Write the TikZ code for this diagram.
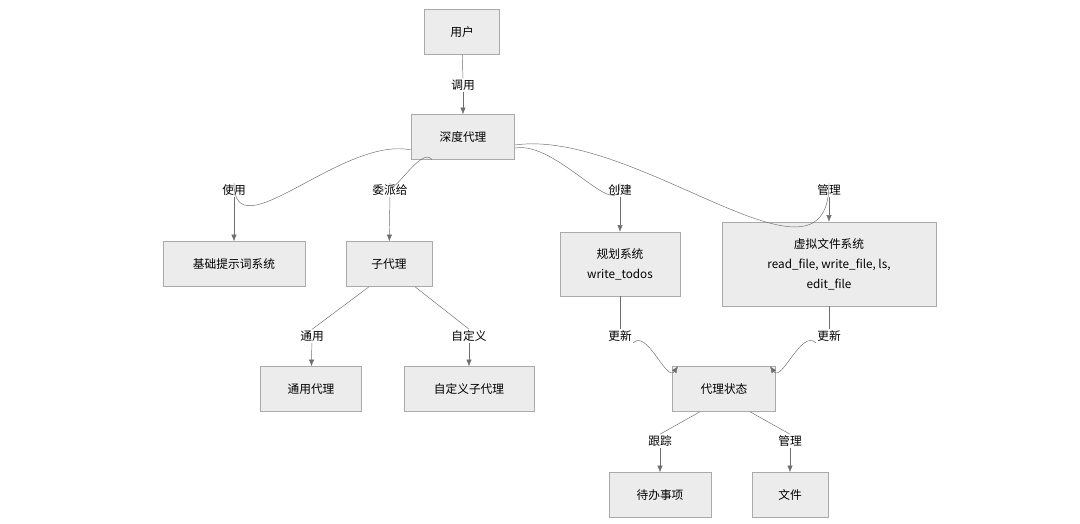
\documentclass[tikz,border=0pt]{standalone}
\usepackage{fontspec}
\setmainfont{Noto Sans CJK SC}
\usepackage{tikz}
\usetikzlibrary{arrows.meta,calc}
\definecolor{box-fill}{RGB}{236,236,236}
\definecolor{box-line}{RGB}{170,170,170}
\definecolor{edge-line}{RGB}{110,110,110}

\begin{document}
\begin{tikzpicture}[
    x=0.03cm, y=-0.03cm,
    box/.style={rectangle, draw=box-line, fill=box-fill, minimum height=1.35cm, align=center, font=\fontsize{10}{17}\selectfont},
    lbl/.style={fill=white, inner sep=1pt, font=\fontsize{10}{12}\selectfont},
    line/.style={edge-line, thin},
    arrow/.style={edge-line, thin, -{Latex[length=2mm,width=1.6mm]}}
]
\useasboundingbox (0,0) rectangle (1080,523);

% Top
\node[box, minimum width=2.25cm] (user) at (462,32) {用户};
\node[box, minimum width=3.1cm] (deep) at (463,137) {深度代理};

% Second row
\node[box, minimum width=4.26cm] (base) at (234,264) {基础提示词系统};
\node[box, minimum width=2.58cm] (sub) at (389,264) {子代理};
\node[box, minimum width=3.6cm, minimum height=1.92cm] (plan) at (620,264) {规划系统\\write\_todos};
\node[box, minimum width=6.42cm, minimum height=2.52cm] (vfs) at (829,264) {虚拟文件系统\\read\_file, write\_file, ls,\\edit\_file};

% Third row
\node[box, minimum width=3.03cm] (general) at (311,389) {通用代理};
\node[box, minimum width=3.9cm] (custom) at (469,389) {自定义子代理};
\node[box, minimum width=3.09cm] (state) at (724,389) {代理状态};

% Bottom
\node[box, minimum width=3.06cm] (todos) at (660,495) {待办事项};
\node[box, minimum width=2.28cm] (files) at (790,495) {文件};

% Labels
\node[lbl] (l-call) at (463,85) {调用};
\node[lbl] (l-use) at (234,190) {使用};
\node[lbl] (l-deleg) at (390,190) {委派给};
\node[lbl] (l-create) at (620,190) {创建};
\node[lbl] (l-manage) at (829,190) {管理};
\node[lbl] (l-gen) at (312,336) {通用};
\node[lbl] (l-cus) at (469,336) {自定义};
\node[lbl] (l-upd1) at (620,336) {更新};
\node[lbl] (l-upd2) at (829,336) {更新};
\node[lbl] (l-track) at (660,441) {跟踪};
\node[lbl] (l-mgf) at (790,441) {管理};

% Edges
\draw[line] (user) -- (l-call);
\draw[arrow] (l-call) -- (deep);
\draw[line] ($(deep.west)+(0,13)$) to[out=168,in=-90] (l-use.north);
\draw[arrow] (l-use) -- (base);
\draw[line] ($(deep.south)+(-31,0)$) to[out=125,in=-90] (l-deleg.north);
\draw[arrow] (l-deleg) -- (sub);
\draw[line] ($(deep.east)+(0,11)$) to[out=10,in=-90] (l-create.north);
\draw[arrow] (l-create) -- (plan);
\draw[line] ($(deep.east)+(0,8)$) to[out=8,in=-90] (l-manage.north);
\draw[arrow] (l-manage) -- (vfs);
\draw[line] ($(sub.south)+(-20,0)$) -- (l-gen.north);
\draw[arrow] (l-gen) -- (general);
\draw[line] ($(sub.south)+(26,0)$) -- (l-cus.north);
\draw[arrow] (l-cus) -- (custom);
\draw[line] (plan) -- (l-upd1);
\draw[arrow] (l-upd1.south east) to[out=45,in=-125] ($(state.north)+(-46,0)$);
\draw[line] (vfs) -- (l-upd2);
\draw[arrow] (l-upd2.south west) to[out=135,in=-55] ($(state.north)+(46,0)$);
\draw[line] ($(state.south)+(-24,0)$) -- (l-track.north);
\draw[arrow] (l-track) -- (todos);
\draw[line] ($(state.south)+(26,0)$) -- (l-mgf.north);
\draw[arrow] (l-mgf) -- (files);

\end{tikzpicture}
\end{document}
